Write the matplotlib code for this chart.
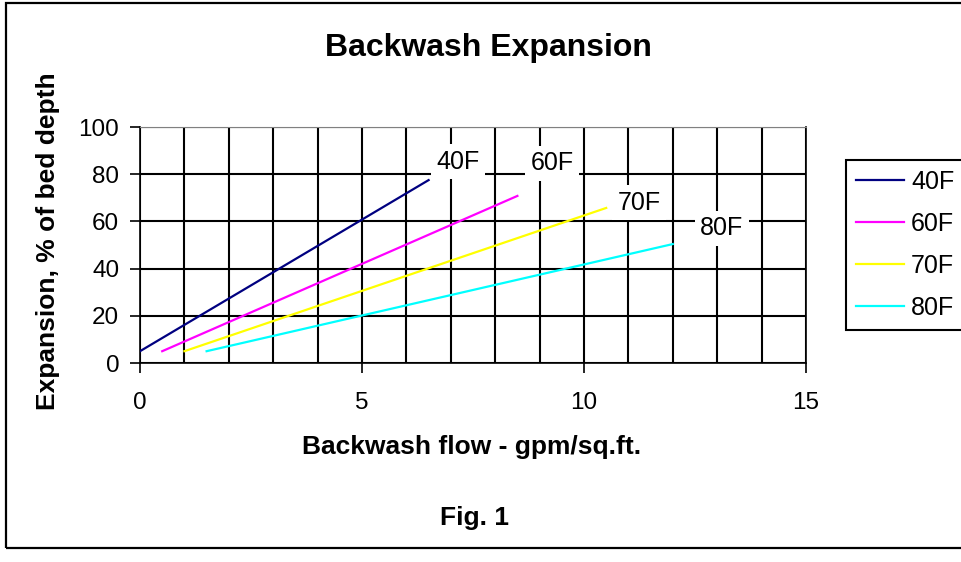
import matplotlib.pyplot as plt
from matplotlib.patches import Rectangle
from matplotlib.ticker import MultipleLocator

plt.rcParams['font.family'] = ['Liberation Sans', 'DejaVu Sans']

# Backwash expansion curves (flow gpm/sq.ft. vs expansion %)
series_names = ["40F", "60F", "70F", "80F"]
flow_40 = [0, 6.5]
exp_40 = [5, 77.5]
flow_60 = [0.5, 8.5]
exp_60 = [5, 70.8]
flow_70 = [1, 10.5]
exp_70 = [5, 65.7]
flow_80 = [1.5, 12]
exp_80 = [5, 50.4]
colors = ["#000080", "#FF00FF", "#FFFF00", "#00FFFF"]

# label positions for the curve names
label_x = [7.16, 9.28, 11.24, 13.1]
label_y = [85.2, 84.7, 67.8, 57.2]

fig = plt.figure(figsize=(9.61, 5.62), dpi=100)
ax = fig.add_axes([140 / 961, 1 - 363 / 562, 666 / 961, 236 / 562])

flows = [flow_40, flow_60, flow_70, flow_80]
exps = [exp_40, exp_60, exp_70, exp_80]
for f, e, c, name in zip(flows, exps, colors, series_names):
    ax.plot(f, e, color=c, lw=1.6, label=name, zorder=3)

for name, x, y in zip(series_names, label_x, label_y):
    ax.text(x, y, name, fontsize=18, ha='center', va='center', zorder=4,
            bbox=dict(facecolor='white', edgecolor='none', pad=4))

ax.set_xlim(0, 15)
ax.set_ylim(0, 100)
ax.xaxis.set_major_locator(MultipleLocator(5))
ax.xaxis.set_minor_locator(MultipleLocator(1))
ax.yaxis.set_major_locator(MultipleLocator(20))
ax.grid(which='major', axis='y', color='black', lw=1.5)
ax.grid(which='both', axis='x', color='black', lw=1.5)
ax.set_axisbelow(True)
ax.tick_params(axis='both', which='major', labelsize=17.5, length=7, width=1.2, color='black')
ax.tick_params(axis='x', which='minor', length=0)
ax.tick_params(axis='x', pad=14)
ax.tick_params(axis='y', pad=8)
ax.spines['top'].set_color('gray')
for s in ['left', 'bottom', 'right']:
    ax.spines[s].set_color('black')
    ax.spines[s].set_linewidth(1.2)

fig.text(488 / 961, 1 - 48 / 562, "Backwash Expansion", fontsize=23, fontweight='bold',
         ha='center', va='center')
fig.text(472 / 961, 1 - 447 / 562, "Backwash flow - gpm/sq.ft.", fontsize=19, fontweight='bold',
         ha='center', va='center')
fig.text(475 / 961, 1 - 518 / 562, "Fig. 1", fontsize=19, fontweight='bold',
         ha='center', va='center')
fig.text(48 / 961, 1 - 241 / 562, "Expansion, % of bed depth", fontsize=19, fontweight='bold',
         ha='center', va='center', rotation=90)

leg = ax.legend(loc='upper left', bbox_to_anchor=(846 / 961, 1 - 160 / 562),
                bbox_transform=fig.transFigure, fontsize=18, frameon=True, fancybox=False,
                framealpha=1, handlelength=1.9, handletextpad=0.3, labelspacing=0.72,
                borderpad=0.4, borderaxespad=0)
leg.get_frame().set_edgecolor('black')
leg.get_frame().set_linewidth(1.5)

fig.patches.append(Rectangle((6 / 961, 1 - 548 / 562), 1.0, 545 / 562,
                             transform=fig.transFigure, fill=False, edgecolor='black', lw=1.6))

fig.savefig("out.png", dpi=100)
